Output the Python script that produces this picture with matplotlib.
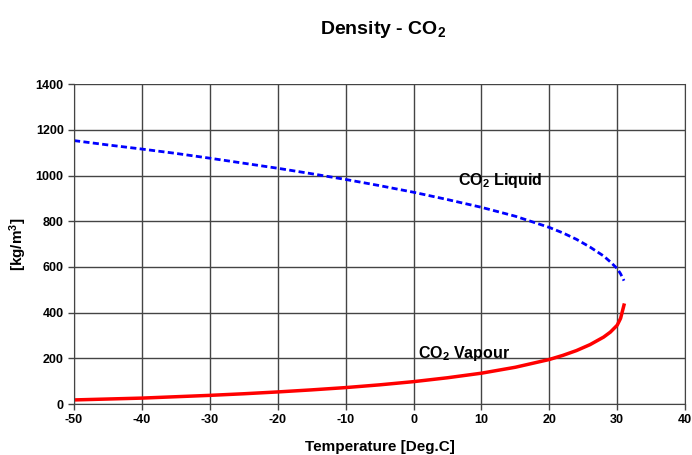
import matplotlib.pyplot as plt

plt.rcParams["font.family"] = ["Liberation Sans", "DejaVu Sans"]
plt.rcParams["font.weight"] = "bold"
plt.rcParams["mathtext.default"] = "regular"
plt.rcParams["axes.unicode_minus"] = False

# saturated CO2 density
liq_t = [-50, -45, -40, -35, -30, -25, -20, -15, -10, -5, 0, 5, 10, 15, 20, 22, 24, 26, 28, 29, 30, 30.5, 31]
liq_rho = [1153, 1134, 1116, 1097, 1076, 1054, 1032, 1008, 983, 956, 927, 895, 861, 822, 773, 749, 721, 687, 648, 622, 593, 570, 540]
vap_t = [-50, -45, -40, -35, -30, -25, -20, -15, -10, -5, 0, 5, 10, 15, 20, 22, 24, 26, 28, 29, 30, 30.5, 31]
vap_rho = [18, 22, 26, 32, 38, 45, 53, 62, 72, 84, 98, 115, 135, 161, 195, 213, 234, 260, 293, 315, 345, 375, 433]

fig = plt.figure(figsize=(6.92, 4.55), dpi=100)
ax = fig.add_axes([0.107, 0.112, 0.883, 0.703])

ax.plot(liq_t, liq_rho, color="#0000ff", lw=2, ls=(0, (2.2, 1.2)))
ax.plot(vap_t, vap_rho, color="#ff0000", lw=2.5)

ax.set_xlim(-50, 40)
ax.set_ylim(0, 1400)
ax.set_xticks(range(-50, 41, 10))
ax.set_yticks(range(0, 1401, 200))
ax.grid(True, color="#444444", lw=1)
ax.tick_params(labelsize=9, length=4, width=1, color="#444444")
for lbl in ax.get_xticklabels() + ax.get_yticklabels():
    lbl.set_fontweight("bold")
for s in ax.spines.values():
    s.set_color("#444444")
ax.spines["top"].set_visible(False)

ax.set_xlabel("Temperature [Deg.C]", fontsize=11, fontweight="bold", labelpad=10)
ax.set_ylabel("[kg/m$^3$]", fontsize=11, fontweight="bold")
ax.yaxis.set_label_coords(-0.074, 0.5)
fig.text(0.553, 0.925, "Density - CO$_2$", ha="center", va="baseline", fontsize=14, fontweight="bold")

ax.text(6.5, 980, "CO$_2$ Liquid", fontsize=11.5, fontweight="bold", va="center")
ax.text(0.7, 222, "CO$_2$ Vapour", fontsize=11.5, fontweight="bold", va="center")

fig.savefig("out.png", dpi=100)
